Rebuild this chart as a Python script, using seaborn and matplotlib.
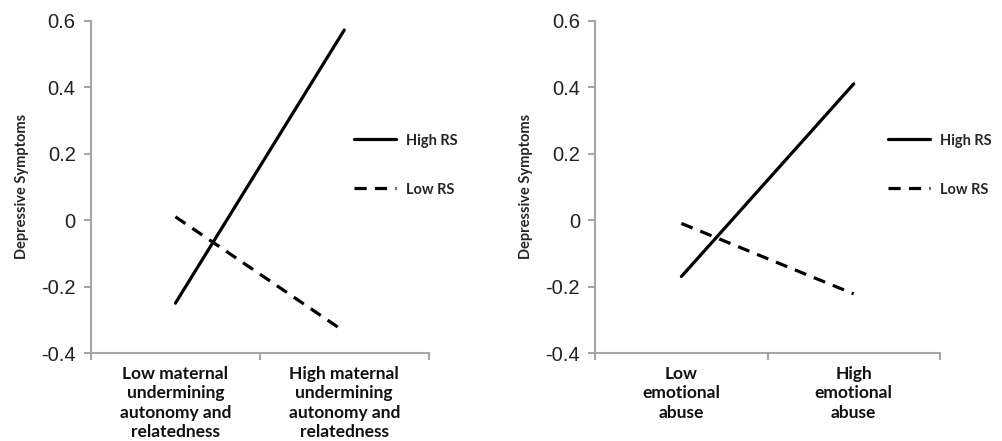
import numpy as np
import pandas as pd
import seaborn as sns
import matplotlib.pyplot as plt
from matplotlib.lines import Line2D
from matplotlib.ticker import FixedLocator

# panel 1: maternal undermining autonomy and relatedness
cats_left = ["Low maternal\nundermining\nautonomy and\nrelatedness",
             "High maternal\nundermining\nautonomy and\nrelatedness"]
high_rs_left = [-0.25, 0.572]
low_rs_left = [0.01, -0.335]

# panel 2: emotional abuse
cats_right = ["Low\nemotional\nabuse", "High\nemotional\nabuse"]
high_rs_right = [-0.17, 0.41]
low_rs_right = [-0.01, -0.222]

groups = ["High RS", "Low RS"]
yticks = [-0.4, -0.2, 0, 0.2, 0.4, 0.6]
ytick_labels = ["-0.4", "-0.2", "0", "0.2", "0.4", "0.6"]

sns.set_style("white")
plt.rcParams['font.family'] = ['Liberation Sans', 'DejaVu Sans']

GRAY = '#a6a6a6'
LW = 2.3
DASH = (3.8, 2.6)
BOLD_FONT = ['Lato', 'DejaVu Sans']


def make_df(cats, high, low):
    return pd.DataFrame({
        "cond": cats * 2,
        "val": high + low,
        "RS": [groups[0]] * 2 + [groups[1]] * 2,
    })


def draw_panel(ax, cats, high, low, legend_x):
    df = make_df(cats, high, low)
    sns.lineplot(data=df, x="cond", y="val", style="RS",
                 dashes={groups[0]: "", groups[1]: DASH},
                 color="black", linewidth=LW, legend=False, ax=ax,
                 sort=False)
    ax.set_xlim(-0.5, 1.5)
    ax.set_ylim(-0.4, 0.6)
    ax.set_yticks(yticks)
    ax.set_yticklabels(ytick_labels, fontsize=14.5, color='#222222')
    ax.set_xticks([0, 1])
    ax.set_xticklabels(cats, fontsize=12.5, fontweight='bold',
                       family=BOLD_FONT, color='#111111',
                       linespacing=1.28)
    ax.xaxis.set_minor_locator(FixedLocator([-0.5, 0.5, 1.5]))
    ax.tick_params(axis='x', which='major', length=0, pad=9)
    ax.tick_params(axis='x', which='minor', length=5, width=1.5,
                   color=GRAY, direction='out', bottom=True)
    ax.tick_params(axis='y', length=5, width=1.5, color=GRAY,
                   direction='out', left=True, pad=6)
    for s in ['top', 'right']:
        ax.spines[s].set_visible(False)
    for s in ['left', 'bottom']:
        ax.spines[s].set_color(GRAY)
        ax.spines[s].set_linewidth(1.5)
    ax.set_xlabel("")
    ax.set_ylabel("Depressive Symptoms", fontsize=10.5, fontweight='bold',
                  family=BOLD_FONT, labelpad=9)
    handles = [Line2D([], [], color='black', lw=LW, ls='-'),
               Line2D([], [], color='black', lw=LW, ls=(0, DASH))]
    ax.legend(handles, groups, loc='upper left', bbox_to_anchor=(legend_x, 0.70),
              frameon=False, handlelength=2.9, labelspacing=2.4,
              handletextpad=0.7,
              prop={'family': BOLD_FONT, 'weight': 'bold', 'size': 10.5})


fig = plt.figure(figsize=(10.02, 4.41), dpi=100)
ax1 = fig.add_axes([0.0908, 0.1995, 0.337, 0.7535])
ax2 = fig.add_axes([0.594, 0.1995, 0.344, 0.7535])

draw_panel(ax1, cats_left, high_rs_left, low_rs_left, 0.74)
draw_panel(ax2, cats_right, high_rs_right, low_rs_right, 0.81)

fig.savefig("out.png", dpi=100)
